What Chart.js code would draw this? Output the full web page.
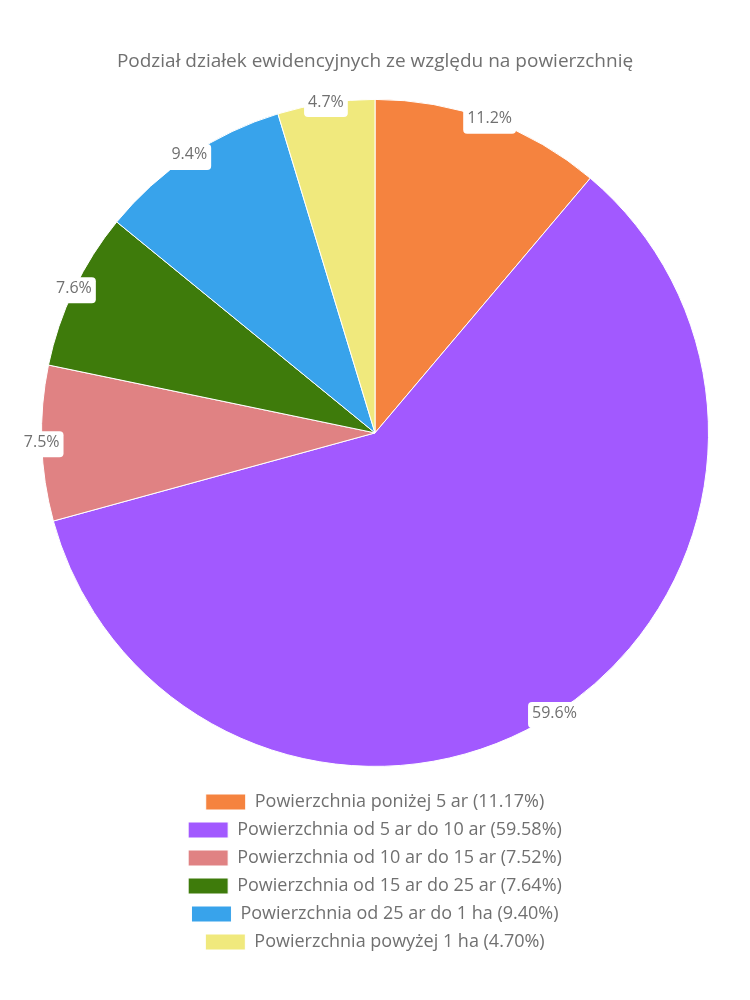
<!DOCTYPE html>
<html>
<head>
<meta charset="utf-8">
<script src="https://cdn.jsdelivr.net/npm/chart.js@4.4.1/dist/chart.umd.min.js"></script>
<style>
  html, body { margin: 0; padding: 0; background: #fff; }
  #wrap { width: 750px; height: 1000px; }
</style>
</head>
<body>
<div id="wrap"><canvas id="mycanvas"></canvas></div>
<script>
var kategorie = [
	'Powierzchnia poniżej 5 ar',
	'Powierzchnia od 5 ar do 10 ar',
	'Powierzchnia od 10 ar do 15 ar',
	'Powierzchnia od 15 ar do 25 ar',
	'Powierzchnia od 25 ar do 1 ha',
	'Powierzchnia powyżej 1 ha'
];
var udzial = [11.17, 59.58, 7.52, 7.64, 9.40, 4.70];
var kolory = ['#f5833f', '#a259ff', '#e08283', '#3e7b0b', '#38a3eb', '#f0e97d'];

var FONT = "'Open Sans', sans-serif";
var GREY = '#707070';

// etykiety z procentami na krawedzi wycinkow
var etykiety = {
	id: 'etykiety',
	afterDatasetsDraw: function(chart) {
		var ctx = chart.ctx;
		var meta = chart.getDatasetMeta(0);
		ctx.save();
		ctx.font = '16px ' + FONT;
		ctx.textAlign = 'center';
		ctx.textBaseline = 'middle';
		meta.data.forEach(function(arc, i) {
			var p = arc.getProps(['x', 'y', 'startAngle', 'endAngle', 'outerRadius'], true);
			var a = (p.startAngle + p.endAngle) / 2;
			var x = p.x + Math.cos(a) * p.outerRadius;
			var y = p.y + Math.sin(a) * p.outerRadius + 1;
			var txt = udzial[i].toFixed(1) + '%';
			var w = ctx.measureText(txt).width + 8;
			var h = 26;
			ctx.fillStyle = '#ffffff';
			ctx.beginPath();
			ctx.roundRect(x - w / 2, y - h / 2, w, h, 4);
			ctx.fill();
			ctx.fillStyle = GREY;
			ctx.fillText(txt, x, y - 2);
		});
		ctx.restore();
	}
};

var chartdata = {
	labels: kategorie,
	datasets: [
		{
			data: udzial,
			backgroundColor: kolory,
			borderColor: '#ffffff',
			borderWidth: 1
		}
	]
};

var ctx = document.getElementById('mycanvas');

var pieGraph = new Chart(ctx, {
	type: 'pie',
	data: chartdata,
	plugins: [etykiety],
	options: {
		responsive: true,
		maintainAspectRatio: false,
		animation: false,
		layout: { padding: { top: 0, bottom: 39, left: 41, right: 41 } },
		plugins: {
			title: {
				display: true,
				text: 'Podział działek ewidencyjnych ze względu na powierzchnię',
				color: GREY,
				font: { family: FONT, size: 19, weight: 'normal' },
				padding: { top: 50, bottom: 10 }
			},
			legend: {
				position: 'bottom',
				labels: {
					color: GREY,
					font: { family: FONT, size: 18 },
					boxWidth: 40,
					boxHeight: 16,
					padding: 10,
					generateLabels: function(chart) {
						return kategorie.map(function(k, i) {
							return {
								text: k + ' (' + udzial[i].toFixed(2) + '%)',
								fillStyle: kolory[i],
								strokeStyle: '#ffffff',
								fontColor: GREY,
								lineWidth: 1,
								hidden: false,
								index: i
							};
						});
					}
				}
			},
			tooltip: { enabled: false }
		}
	}
});
</script>
</body>
</html>
